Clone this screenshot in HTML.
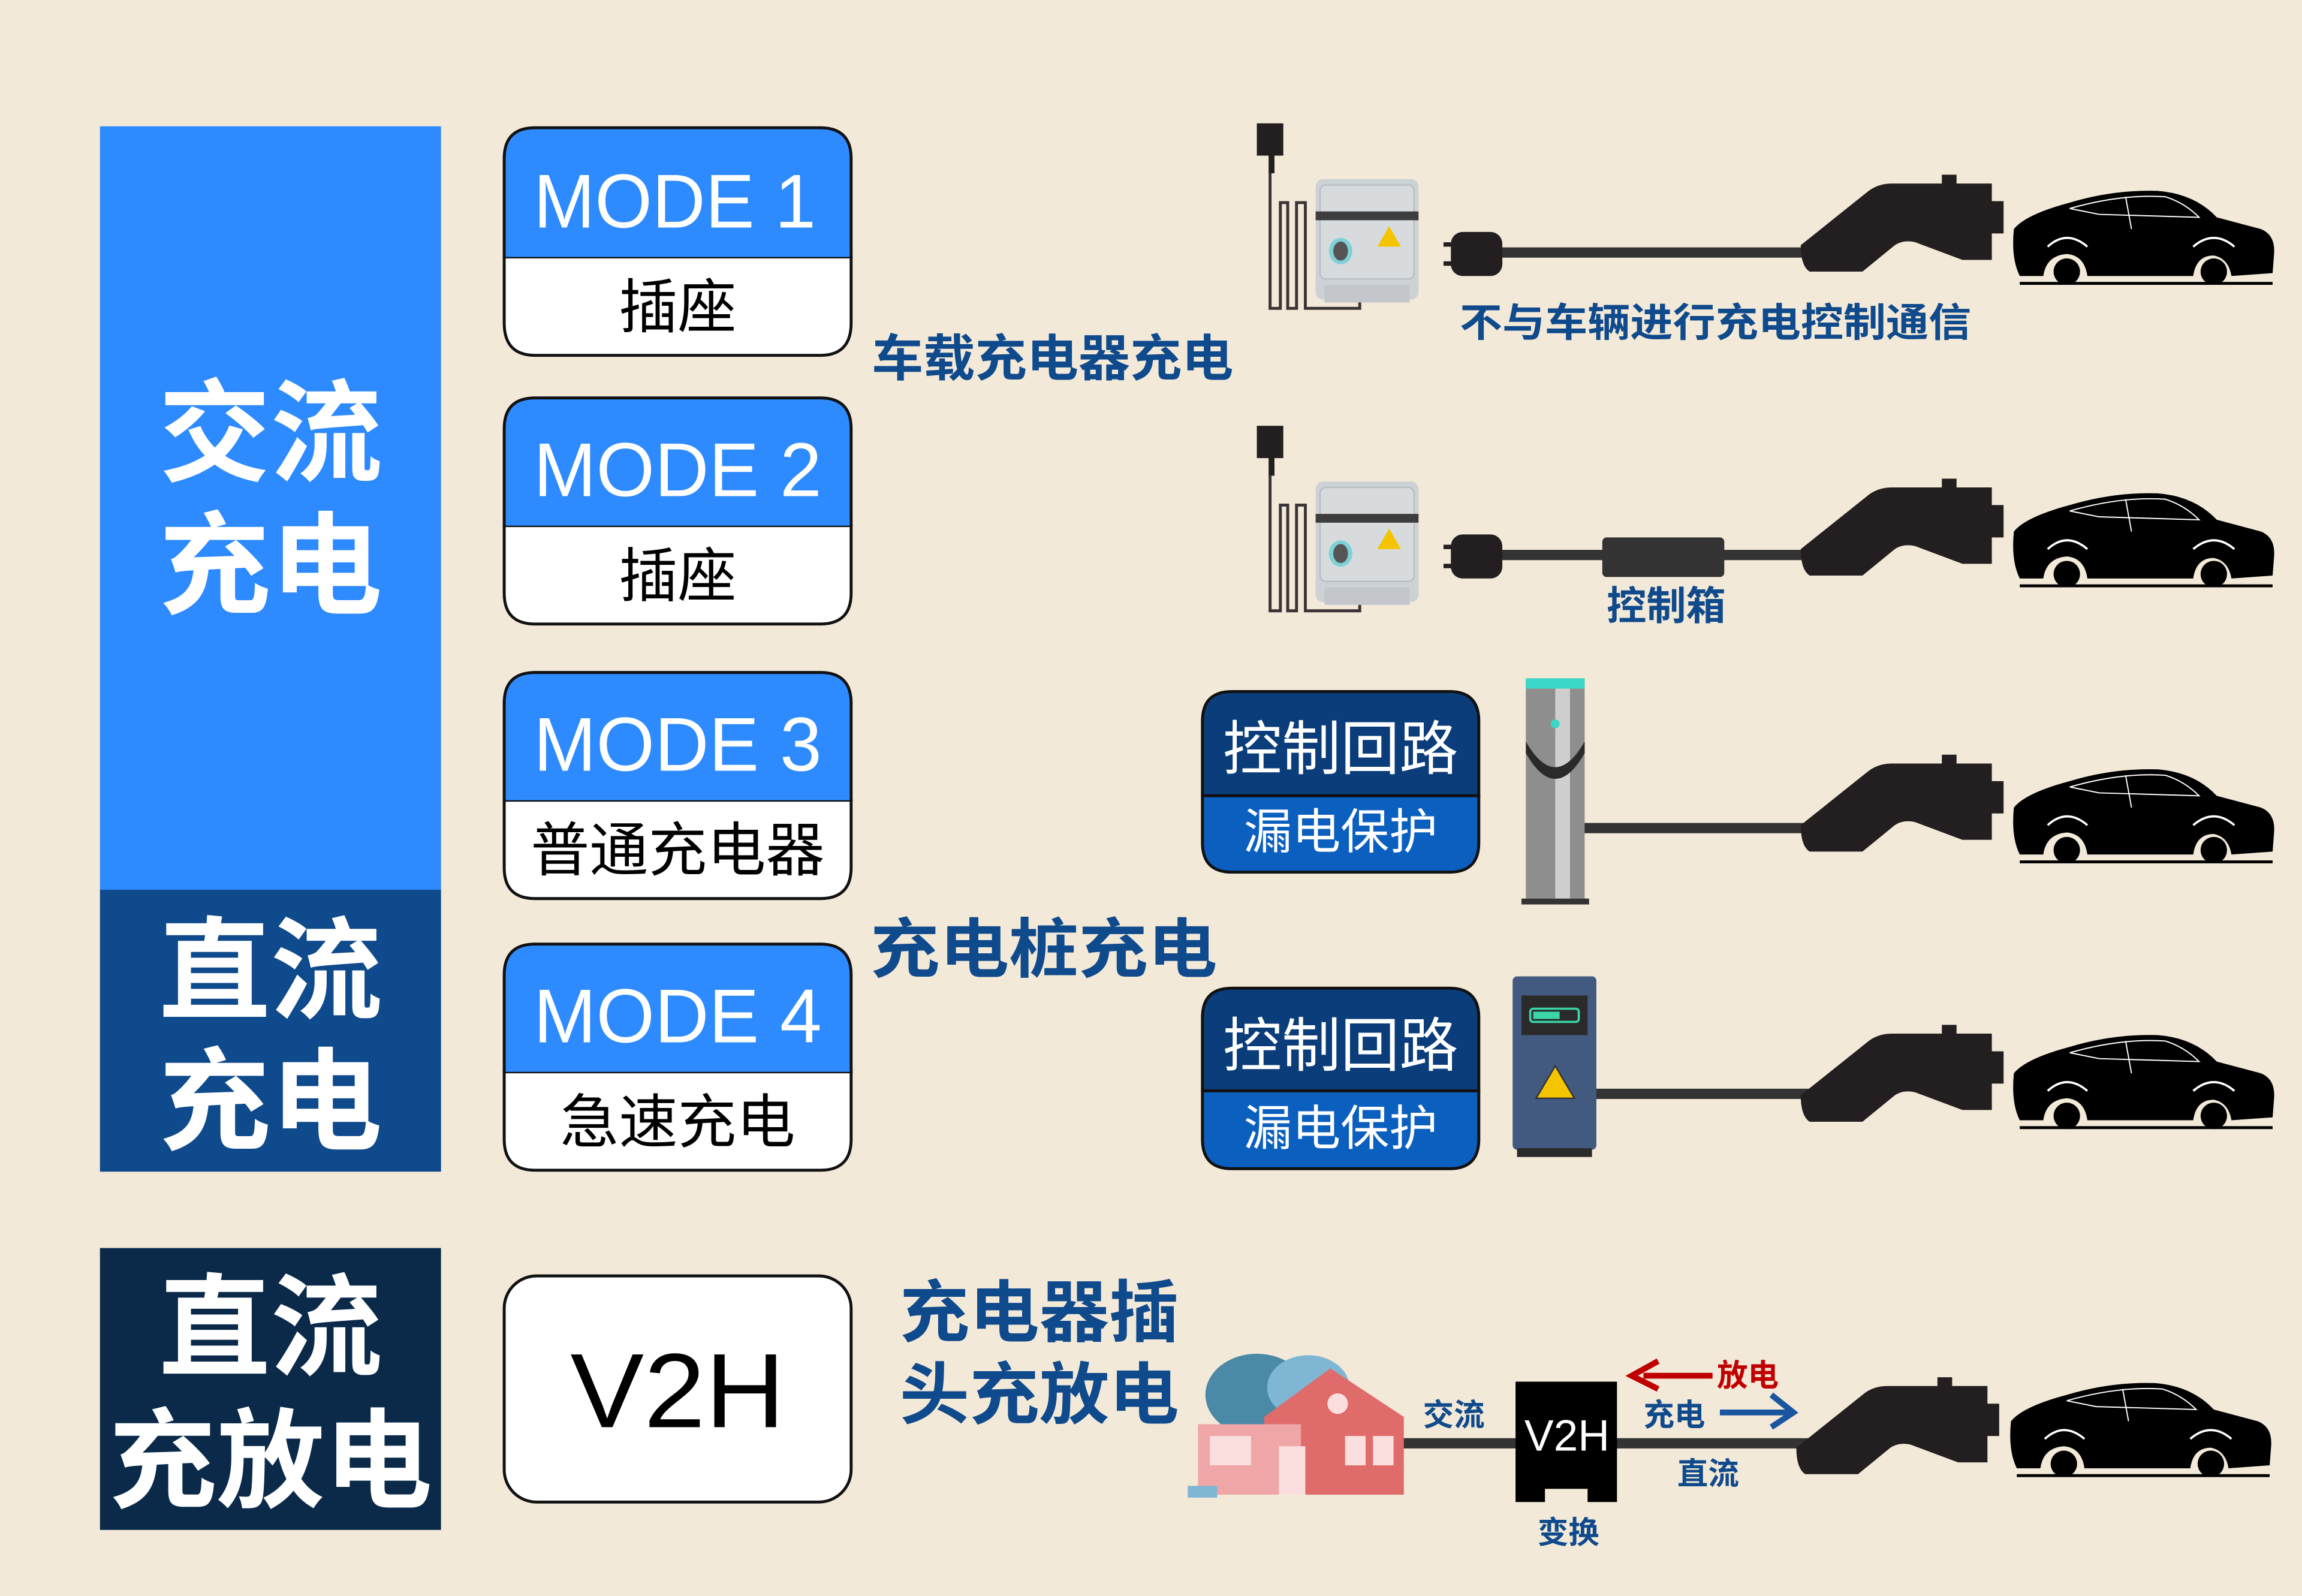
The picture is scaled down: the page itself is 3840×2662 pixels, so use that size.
<!DOCTYPE html>
<html><head><meta charset="utf-8"><style>
html,body{margin:0;padding:0;background:#f3e9d8;}
svg{display:block;}
text{font-family:"Liberation Sans","Noto Sans CJK SC",sans-serif;}
.cj{font-family:"Noto Sans CJK SC","WenQuanYi Zen Hei",sans-serif;}
</style></head><body>
<svg width="3840" height="2662" viewBox="0 0 1566 1087" preserveAspectRatio="none" xmlns="http://www.w3.org/2000/svg">
<defs>
<g id="car">
<path d="M2,28 Q10,18 40,10 Q70,1 100,2 Q125,4 140,20 L170,28 Q180,32 179,45 L178,58 L150,60 Q148,48 138,46 Q126,46 124,60 L52,60 Q50,46 38,45 Q24,46 22,60 L6,60 Q0,48 2,28 Z" fill="#000"/>
<circle cx="38" cy="57" r="9" fill="#000"/><circle cx="138" cy="57" r="9" fill="#000"/>
<path d="M25,40 Q38,28 52,40" stroke="#fff" stroke-width="1.5" fill="none"/>
<path d="M124,40 Q138,28 152,40" stroke="#fff" stroke-width="1.5" fill="none"/>
<path d="M40,14 Q75,4 105,6 Q118,10 128,20 L60,18 Z" fill="none" stroke="#fff" stroke-width="0.8"/>
<line x1="78" y1="6" x2="82" y2="28" stroke="#fff" stroke-width="0.8"/>
<rect x="6" y="64" width="172" height="2" fill="#000"/>
</g>
<g id="plug">
<path d="M0,44 L45,8 Q52,2 62,2 L96,2 L96,-4 L106,-4 L106,2 L130,2 L130,14 L138,14 L138,36 L130,36 L130,54 L110,54 L78,42 Q70,40 64,44 L42,62 L6,62 Q0,58 0,44 Z" fill="#231f20"/>
</g>
<g id="box">
<path d="M0,0 L0,-70 Q0,-78 6,-78 L10,-78 L10,-76 L16,-76" stroke="#231f20" fill="none" stroke-width="0"/>
<rect x="-40" y="-140" width="18" height="22" fill="#231f20"/>
<rect x="-32" y="-120" width="4" height="14" fill="#231f20"/>
<path d="M-31,-106 L-31,-14 L-24,-14 L-24,-86 L-19,-86 L-19,-14 L-13,-14 L-13,-86 L-7,-86 L-7,-14 L30,-14 L30,-28" stroke="#3a3436" stroke-width="2" fill="none"/>
<rect x="0" y="-102" width="70" height="82" rx="5" fill="#cdd2d6"/>
<rect x="3" y="-98" width="64" height="64" rx="4" fill="#d8dbde" stroke="#b9bec2"/>
<rect x="6" y="-30" width="58" height="12" fill="#c3c7cb"/>
<rect x="0" y="-80" width="70" height="6" fill="#3d3d3d"/>
<ellipse cx="17" cy="-53" rx="8" ry="9" fill="#7fd1d8"/><ellipse cx="17" cy="-53" rx="5" ry="6.5" fill="#555"/>
<path d="M50,-70 L58,-56 L42,-56 Z" fill="#f5c400"/>
</g>
</defs>
<rect width="1566" height="1087" fill="#f3e9d8"/>

<!-- left panels -->
<rect x="68" y="86" width="232" height="521" fill="#2e8bff"/>
<rect x="68" y="606" width="232" height="192" fill="#0f4a8c"/>
<rect x="68" y="850" width="232" height="192" fill="#0b2a4a"/>
<g fill="#fff" font-weight="bold" text-anchor="middle" font-size="76">
<text x="184" y="322">交流</text>
<text x="184" y="412">充电</text>
<text x="184" y="688">直流</text>
<text x="184" y="777">充电</text>
<text x="184" y="931">直流</text>
<text x="184" y="1021" font-size="74" textLength="220" lengthAdjust="spacingAndGlyphs">充放电</text>
</g>

<!-- mode boxes -->
<g stroke="#111" stroke-width="2">
<path d="M364,87 L558,87 Q579,87 579,108 L579,175 L343,175 L343,108 Q343,87 364,87 Z" fill="#2e8bff"/>
<path d="M343,175 L579,175 L579,220 Q579,242 558,242 L364,242 Q343,242 343,220 Z" fill="#fff"/>
<path d="M364,271 L558,271 Q579,271 579,292 L579,358 L343,358 L343,292 Q343,271 364,271 Z" fill="#2e8bff"/>
<path d="M343,358 L579,358 L579,404 Q579,425 558,425 L364,425 Q343,425 343,404 Z" fill="#fff"/>
<path d="M364,458 L558,458 Q579,458 579,479 L579,545 L343,545 L343,479 Q343,458 364,458 Z" fill="#2e8bff"/>
<path d="M343,545 L579,545 L579,591 Q579,612 558,612 L364,612 Q343,612 343,591 Z" fill="#fff"/>
<path d="M364,643 L558,643 Q579,643 579,664 L579,730 L343,730 L343,664 Q343,643 364,643 Z" fill="#2e8bff"/>
<path d="M343,730 L579,730 L579,776 Q579,797 558,797 L364,797 Q343,797 343,776 Z" fill="#fff"/>
<rect x="343" y="869" width="236" height="154" rx="22" fill="#fff"/>
</g>
<g stroke="none" fill="#2e8bff"><rect x="344" y="170" width="234" height="5"/><rect x="344" y="353" width="234" height="5"/><rect x="344" y="540" width="234" height="5"/><rect x="344" y="725" width="234" height="5"/></g>
<g fill="#fff" font-size="52">
<text x="363" y="155" textLength="192" lengthAdjust="spacingAndGlyphs">MODE 1</text>
<text x="363" y="338" textLength="196" lengthAdjust="spacingAndGlyphs">MODE 2</text>
<text x="363" y="525" textLength="196" lengthAdjust="spacingAndGlyphs">MODE 3</text>
<text x="363" y="710" textLength="196" lengthAdjust="spacingAndGlyphs">MODE 4</text>
</g>
<g fill="#000" font-size="40" text-anchor="middle">
<text x="461" y="223">插座</text>
<text x="461" y="406">插座</text>
<text x="461" y="593">普通充电器</text>
<text x="461" y="778">急速充电</text>
<text x="461" y="972" font-size="72" textLength="146" lengthAdjust="spacingAndGlyphs">V2H</text>
</g>

<!-- middle labels -->
<g fill="#0f4a8c" font-weight="bold">
<text x="593" y="256" font-size="34" textLength="246" lengthAdjust="spacingAndGlyphs">车载充电器充电</text>
<text x="592" y="662" font-size="44" textLength="236" lengthAdjust="spacingAndGlyphs">充电桩充电</text>
<text x="612" y="910" font-size="46" textLength="190" lengthAdjust="spacingAndGlyphs">充电器插</text>
<text x="612" y="966" font-size="46" textLength="190" lengthAdjust="spacingAndGlyphs">头充放电</text>
<text x="993" y="229" font-size="27" textLength="348" lengthAdjust="spacingAndGlyphs">不与车辆进行充电控制通信</text>
<text x="1093" y="422" font-size="27">控制箱</text>
</g>

<!-- control boxes -->
<g stroke="#111" stroke-width="2">
<path d="M838,471 L986,471 Q1006,471 1006,491 L1006,542 L818,542 L818,491 Q818,471 838,471 Z" fill="#0a3d7a"/>
<path d="M818,542 L1006,542 L1006,574 Q1006,594 986,594 L838,594 Q818,594 818,574 Z" fill="#0b5fbf"/>
<path d="M838,673 L986,673 Q1006,673 1006,693 L1006,743 L818,743 L818,693 Q818,673 838,673 Z" fill="#0a3d7a"/>
<path d="M818,743 L1006,743 L1006,776 Q1006,796 986,796 L838,796 Q818,796 818,776 Z" fill="#0b5fbf"/>
</g>
<g fill="#fff" text-anchor="middle">
<text x="912" y="524" font-size="40">控制回路</text>
<text x="912" y="578" font-size="33">漏电保护</text>
<text x="912" y="726" font-size="40">控制回路</text>
<text x="912" y="780" font-size="33">漏电保护</text>
</g>

<!-- row1 -->
<use href="#box" x="895" y="224"/>
<line x1="1018" y1="172" x2="1232" y2="172" stroke="#333" stroke-width="7"/>
<rect x="987" y="158" width="35" height="30" rx="8" fill="#231f20"/>
<rect x="982" y="165" width="6" height="3" fill="#231f20"/><rect x="982" y="178" width="6" height="3" fill="#231f20"/>
<use href="#plug" x="1225" y="123"/>
<use href="#car" x="1368" y="128"/>

<!-- row2 -->
<use href="#box" x="895" y="430"/>
<line x1="1018" y1="378" x2="1232" y2="378" stroke="#333" stroke-width="7"/>
<rect x="987" y="364" width="35" height="30" rx="8" fill="#231f20"/>
<rect x="982" y="371" width="6" height="3" fill="#231f20"/><rect x="982" y="384" width="6" height="3" fill="#231f20"/>
<rect x="1090" y="366" width="83" height="27" rx="3" fill="#333"/>
<use href="#plug" x="1225" y="330"/>
<use href="#car" x="1368" y="334"/>

<!-- row3 pole -->
<line x1="1076" y1="564" x2="1232" y2="564" stroke="#333" stroke-width="7"/>
<rect x="1038" y="462" width="40" height="150" fill="#8e8e8e"/>
<rect x="1058" y="462" width="10" height="150" fill="#cfcfcf"/>
<rect x="1038" y="462" width="40" height="7" fill="#3ad6c8"/>
<circle cx="1058" cy="493" r="3" fill="#3ad6c8"/>
<path d="M1038,505 Q1058,540 1078,505 L1078,513 Q1058,548 1038,513 Z" fill="#2a2a2a"/>
<rect x="1035" y="612" width="46" height="4" fill="#333"/>
<use href="#plug" x="1225" y="518"/>
<use href="#car" x="1368" y="522"/>

<!-- row4 charger -->
<line x1="1085" y1="745" x2="1232" y2="745" stroke="#333" stroke-width="7"/>
<rect x="1029" y="665" width="57" height="118" rx="3" fill="#435a80"/>
<rect x="1035" y="678" width="45" height="27" fill="#2a2a2a"/>
<rect x="1041" y="687" width="33" height="9" rx="2" fill="none" stroke="#3ad6a8" stroke-width="1.5"/>
<rect x="1043" y="689" width="18" height="5" fill="#3ad6a8"/>
<path d="M1058,726 L1071,748 L1045,748 Z" fill="#f5c400" stroke="#333" stroke-width="1"/>
<rect x="1032" y="782" width="51" height="6" fill="#2a2a2a"/>
<use href="#plug" x="1225" y="702"/>
<use href="#car" x="1368" y="703"/>

<!-- V2H row -->
<line x1="950" y1="983" x2="1232" y2="983" stroke="#333" stroke-width="7"/>
<ellipse cx="855" cy="950" rx="35" ry="28" fill="#4a8aa6"/>
<ellipse cx="890" cy="945" rx="28" ry="22" fill="#7fb6d3"/>
<path d="M860,965 L905,932 L955,965 L955,1018 L860,1018 Z" fill="#e06b6b"/>
<rect x="815" y="970" width="70" height="48" fill="#f0a6a6"/>
<rect x="823" y="978" width="28" height="20" fill="#fbdede"/>
<rect x="870" y="985" width="18" height="33" fill="#fbdede"/>
<circle cx="910" cy="956" r="7" fill="#fbdede"/>
<rect x="915" y="978" width="14" height="20" fill="#fbdede"/>
<rect x="934" y="978" width="14" height="20" fill="#fbdede"/>
<rect x="808" y="1012" width="20" height="8" fill="#7fb6d3"/>
<path d="M1031,941 L1100,941 L1100,1023 L1080,1023 L1080,1014 L1051,1014 L1051,1023 L1031,1023 Z" fill="#000"/>
<text x="1066" y="988" fill="#fff" font-size="30" text-anchor="middle" textLength="58" lengthAdjust="spacingAndGlyphs">V2H</text>
<g font-weight="bold" font-size="21">
<text x="968" y="971" fill="#0f4a8c">交流</text>
<text x="1118" y="971" fill="#0f4a8c">充电</text>
<text x="1168" y="944" fill="#c00000">放电</text>
<text x="1141" y="1011" fill="#0f4a8c">直流</text>
<text x="1046" y="1051" fill="#0f4a8c">变换</text>
</g>
<path d="M1165,937 L1118,937" stroke="#c00000" stroke-width="4" fill="none"/>
<path d="M1128,927 L1110,937 L1128,946" stroke="#c00000" stroke-width="4" fill="none"/>
<path d="M1170,962 L1218,962" stroke="#1a55a0" stroke-width="4" fill="none"/>
<path d="M1205,950 L1220,962 L1205,972" stroke="#1a55a0" stroke-width="4" fill="none"/>
<use href="#plug" x="1222" y="942"/>
<use href="#car" x="1366" y="940"/>
</svg>
</body></html>
